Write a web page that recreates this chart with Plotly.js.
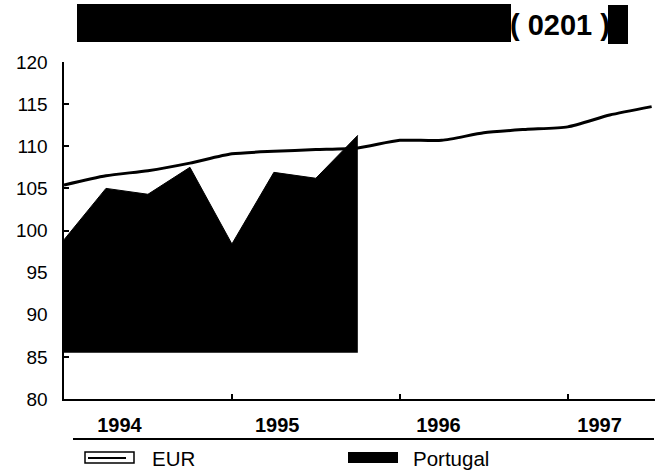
<!DOCTYPE html>
<html>
<head>
<meta charset="utf-8">
<script src="https://cdn.plot.ly/plotly-3.0.1.min.js"></script>
<style>html,body{margin:0;padding:0;background:#fff;}#chart{width:661px;height:475px;}</style>
</head>
<body>
<div id="chart"></div>
<script>
// ---- data ----
var eurX = [1994.0, 1994.25, 1994.5, 1994.75, 1995.0, 1995.25, 1995.5, 1995.75, 1996.0, 1996.25, 1996.5, 1996.75, 1997.0, 1997.25, 1997.5];
var eurY = [105.4, 106.5, 107.1, 108.0, 109.1, 109.4, 109.6, 109.8, 110.7, 110.7, 111.6, 112.0, 112.3, 113.7, 114.7];
var portX = [1994.0, 1994.25, 1994.5, 1994.75, 1995.0, 1995.25, 1995.5, 1995.75];
var portY = [98.9, 105.0, 104.3, 107.5, 98.4, 106.9, 106.2, 111.3];
var portBaseX = [1994.0, 1995.75];
var portBaseY = [85.5, 85.5];
var seriesNames = ['EUR', 'Portugal'];
var yearLabels = ['1994', '1995', '1996', '1997'];
var yearLabelPos = [1994.33, 1995.27, 1996.23, 1997.19];
var yearBounds = [1995, 1996, 1997];
var yTicks = [80, 85, 90, 95, 100, 105, 110, 115, 120];
var titleCode = '( 0201 )';

var traces = [
  {x: portBaseX, y: portBaseY, type: 'scatter', mode: 'lines', line: {width: 0, color: '#000'}, showlegend: false, hoverinfo: 'skip'},
  {x: portX, y: portY, type: 'scatter', mode: 'lines', name: seriesNames[1], fill: 'tonexty', fillcolor: '#000', line: {width: 1, color: '#000'}, showlegend: false},
  {x: eurX, y: eurY, type: 'scatter', mode: 'lines', name: seriesNames[0], line: {width: 3, color: '#000', shape: 'spline', smoothing: 0.6}, showlegend: false}
];

var F = 'Liberation Sans, Arial, Helvetica, sans-serif';
var layout = {
  width: 661, height: 475,
  margin: {l: 64, r: 6, t: 62, b: 76},
  paper_bgcolor: '#fff', plot_bgcolor: '#fff',
  showlegend: false,
  title: {text: titleCode, xref: 'container', yref: 'container', x: 560/661, xanchor: 'center', y: 1 - 25/475, yanchor: 'middle',
          font: {family: F, size: 29, color: '#000', weight: 'bold'}},
  xaxis: {
    range: [1994.0, 1997.52], showgrid: false, zeroline: false,
    showline: true, linecolor: '#000', linewidth: 2,
    tickmode: 'array', tickvals: yearLabelPos, ticktext: yearLabels, ticks: '',
    tickfont: {family: F, size: 20, color: '#000', weight: 'bold'},
    ticklabelstandoff: 7,
    minor: {tickmode: 'array', tickvals: yearBounds, ticks: 'inside', ticklen: 5, tickwidth: 2, tickcolor: '#000', showgrid: false}
  },
  yaxis: {
    range: [80, 120], showgrid: false, zeroline: false,
    showline: true, linecolor: '#000', linewidth: 2.5,
    tickmode: 'array', tickvals: yTicks, ticks: 'inside', ticklen: 5, tickwidth: 2, tickcolor: '#000',
    tickfont: {family: F, size: 19, color: '#000'},
    ticklabelstandoff: 10
  },
  shapes: [
    {type: 'rect', xref: 'paper', yref: 'paper', x0: (77-64)/591, x1: (511-64)/591, y0: (399-42)/337, y1: (399-4)/337, fillcolor: '#000', line: {width: 0}},
    {type: 'rect', xref: 'paper', yref: 'paper', x0: (608-64)/591, x1: (628-64)/591, y0: (399-44)/337, y1: (399-5)/337, fillcolor: '#000', line: {width: 0}},
    {type: 'line', xref: 'paper', yref: 'paper', x0: (73-64)/591, x1: (654-64)/591, y0: (399-439)/337, y1: (399-439)/337, line: {color: '#000', width: 2}},
    // legend symbols
    {type: 'rect', xref: 'paper', yref: 'paper', x0: (85-64)/591, x1: (134-64)/591, y0: (399-463)/337, y1: (399-452)/337, fillcolor: '#fff', line: {color: '#000', width: 1.5}},
    {type: 'line', xref: 'paper', yref: 'paper', x0: (88-64)/591, x1: (126-64)/591, y0: (399-458)/337, y1: (399-458)/337, line: {color: '#000', width: 2}},
    {type: 'rect', xref: 'paper', yref: 'paper', x0: (348-64)/591, x1: (398-64)/591, y0: (399-463)/337, y1: (399-452)/337, fillcolor: '#000', line: {width: 0}}
  ],
  annotations: [
    {xref: 'paper', yref: 'paper', x: (150-64)/591, y: (399-458)/337, xanchor: 'left', yanchor: 'middle', showarrow: false, text: seriesNames[0], font: {family: F, size: 20.5, color: '#000'}},
    {xref: 'paper', yref: 'paper', x: (411-64)/591, y: (399-458)/337, xanchor: 'left', yanchor: 'middle', showarrow: false, text: seriesNames[1], font: {family: F, size: 20.5, color: '#000'}}
  ]
};

Plotly.newPlot('chart', traces, layout, {displayModeBar: false, staticPlot: true});
</script>
</body>
</html>
